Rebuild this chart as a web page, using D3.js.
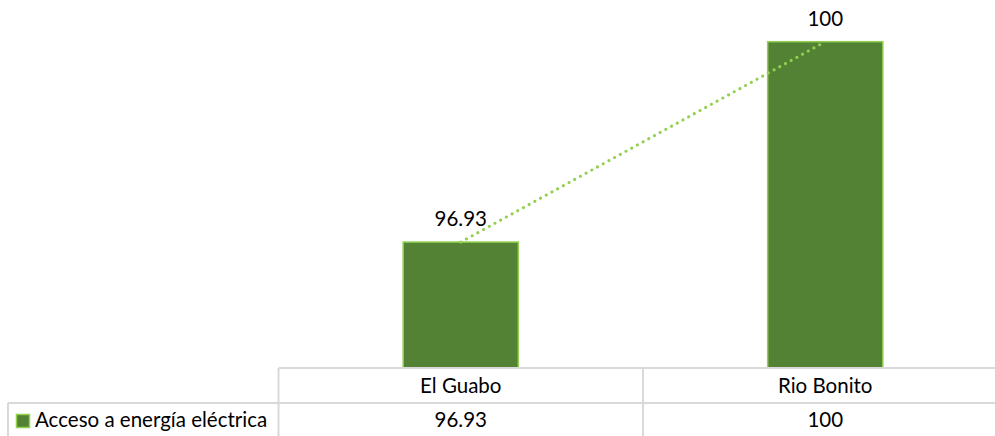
<!DOCTYPE html>
<html>
<head>
<meta charset="utf-8">
<script src="https://cdn.jsdelivr.net/npm/d3@7"></script>
<style>
  html, body { margin: 0; padding: 0; background: #fff; }
  svg { display: block; }
  text { font-family: Lato, "Open Sans", sans-serif; fill: #000; }
</style>
</head>
<body>
<svg id="chart" width="995" height="436"></svg>
<script>
// Chart data
const categories = ["El Guabo", "Rio Bonito"];
const seriesName = "Acceso a energía eléctrica";
const values = [96.93, 100];
const valueLabels = ["96.93", "100"];
const yDomain = [95, 100];

const W = 995, H = 436;
const FS = 20.5;
const svg = d3.select("#chart");

const colors = {
  bar: "#548235",
  barEdge: "#92D050",
  trend: "#92D050",
  grid: "#D9D9D9"
};

// Layout of the plot and the data table underneath
const plotLeft = 278.5, plotRight = 1007.5;
const tableTop = 368, rowH = 35;
const y = d3.scaleLinear().domain(yDomain).range([tableTop, 41.7]);
const x = d3.scaleBand().domain(categories).range([plotLeft, plotRight]).padding(0);
const barW = x.bandwidth() * 0.316;
const cx = c => x(c) + x.bandwidth() / 2;

const data = categories.map((c, i) => ({ cat: c, value: values[i], label: valueLabels[i] }));

// Bars
svg.append("g").selectAll("rect")
  .data(data).join("rect")
  .attr("x", d => cx(d.cat) - barW / 2)
  .attr("y", d => y(d.value))
  .attr("width", barW)
  .attr("height", d => y(yDomain[0]) - y(d.value))
  .attr("fill", colors.bar)
  .attr("stroke", colors.barEdge)
  .attr("stroke-width", 1.5);

// Linear trend line between the bar tops (dotted)
const line = d3.line().x(d => cx(d.cat)).y(d => y(d.value));
svg.append("path")
  .datum(data)
  .attr("d", line)
  .attr("fill", "none")
  .attr("stroke", colors.trend)
  .attr("stroke-width", 3)
  .attr("stroke-linecap", "round")
  .attr("stroke-dasharray", "0.1 6.4");

// Value labels above the bars
svg.append("g").selectAll("text")
  .data(data).join("text")
  .attr("x", d => cx(d.cat))
  .attr("y", d => y(d.value) - 16)
  .attr("text-anchor", "middle")
  .attr("font-size", FS)
  .text(d => d.label);

// Data table grid
const grid = svg.append("g").attr("stroke", colors.grid).attr("stroke-width", 2).attr("fill", "none");
grid.append("line").attr("x1", plotLeft).attr("x2", W).attr("y1", tableTop).attr("y2", tableTop);
grid.append("line").attr("x1", 8).attr("x2", W).attr("y1", tableTop + rowH).attr("y2", tableTop + rowH);
grid.append("line").attr("x1", 8).attr("x2", 8).attr("y1", tableTop + rowH).attr("y2", H + 2);
grid.selectAll("line.v")
  .data(categories).join("line")
  .attr("class", "v")
  .attr("x1", d => x(d)).attr("x2", d => x(d))
  .attr("y1", tableTop).attr("y2", H + 2);

// Category row
svg.append("g").selectAll("text")
  .data(categories).join("text")
  .attr("x", d => cx(d))
  .attr("y", tableTop + rowH / 2)
  .attr("dy", "0.35em")
  .attr("text-anchor", "middle")
  .attr("font-size", FS)
  .text(d => d);

// Values row
svg.append("g").selectAll("text")
  .data(data).join("text")
  .attr("x", d => cx(d.cat))
  .attr("y", tableTop + rowH + 17)
  .attr("dy", "0.35em")
  .attr("text-anchor", "middle")
  .attr("font-size", FS)
  .text(d => d.label);

// Legend key for the series row
svg.append("rect")
  .attr("x", 16.5).attr("y", 414.5)
  .attr("width", 13).attr("height", 13)
  .attr("fill", colors.bar)
  .attr("stroke", colors.barEdge)
  .attr("stroke-width", 1.5);
svg.append("text")
  .attr("x", 35)
  .attr("y", tableTop + rowH + 17)
  .attr("dy", "0.35em")
  .attr("font-size", FS)
  .text(seriesName);
</script>
</body>
</html>
